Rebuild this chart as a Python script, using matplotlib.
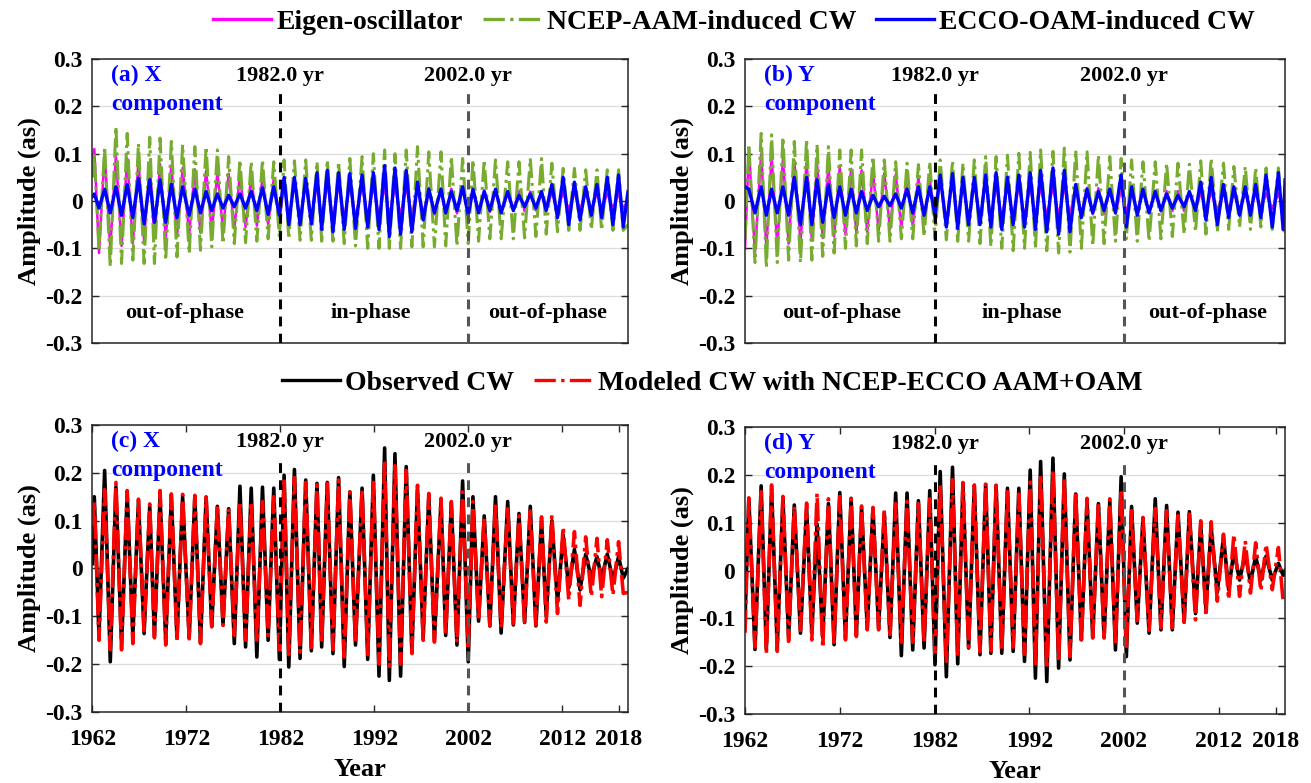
import matplotlib
matplotlib.use("Agg")
import matplotlib.pyplot as plt
from matplotlib.lines import Line2D

plt.rcParams['font.family'] = ['Liberation Serif', 'DejaVu Serif']
plt.rcParams['font.weight'] = 'bold'
plt.rcParams['axes.labelweight'] = 'bold'
plt.rcParams['lines.solid_joinstyle'] = 'round'
plt.rcParams['lines.dash_joinstyle'] = 'round'

# --- extremum times (years) ---
x_peak_t = [1962.2, 1963.3, 1964.5, 1965.7, 1966.9, 1968.1, 1969.2, 1970.4, 1971.6, 1972.9,
            1974.1, 1975.3, 1976.5, 1977.7, 1978.9, 1980.1, 1981.3, 1982.4, 1983.5, 1984.7,
            1985.9, 1987.0, 1988.2, 1989.4, 1990.7, 1991.9, 1993.1, 1994.2, 1995.4, 1996.6,
            1997.8, 1999.1, 2000.2, 2001.4, 2002.5, 2003.7, 2004.9, 2006.2, 2007.4, 2008.6,
            2009.8, 2010.9, 2012.1, 2013.3, 2014.5, 2015.7, 2016.8, 2018.0]
x_trough_t = [1962.7, 1963.9, 1965.1, 1966.3, 1967.5, 1968.6, 1969.8, 1971.0, 1972.3, 1973.5,
              1974.7, 1975.9, 1977.1, 1978.3, 1979.5, 1980.7, 1981.9, 1982.9, 1984.1, 1985.3,
              1986.4, 1987.6, 1988.8, 1990.0, 1991.3, 1992.5, 1993.6, 1994.8, 1996.0, 1997.2,
              1998.4, 1999.6, 2000.8, 2002.0, 2003.1, 2004.3, 2005.5, 2006.8, 2008.0, 2009.2,
              2010.3, 2011.5, 2012.7, 2013.9, 2015.1, 2016.2, 2017.4, 2018.5]
y_peak_t = [1962.4, 1963.7, 1964.8, 1966.0, 1967.2, 1968.5, 1969.6, 1970.8, 1972.0, 1973.2,
            1974.3, 1975.5, 1976.7, 1977.9, 1979.1, 1980.3, 1981.5, 1982.6, 1983.9, 1985.0,
            1986.2, 1987.4, 1988.5, 1989.7, 1990.9, 1992.1, 1993.2, 1994.5, 1995.7, 1996.9,
            1998.1, 1999.3, 2000.5, 2001.7, 2002.8, 2004.0, 2005.3, 2006.5, 2007.7, 2008.9,
            2010.1, 2011.2, 2012.5, 2013.6, 2014.8, 2015.9, 2017.0, 2018.3]
y_trough_t = [1963.05, 1964.25, 1965.4, 1966.6, 1967.85, 1969.05, 1970.2, 1971.4, 1972.6, 1973.75,
              1974.9, 1976.1, 1977.3, 1978.5, 1979.7, 1980.9, 1982.05, 1983.25, 1984.45, 1985.6,
              1986.8, 1987.95, 1989.1, 1990.3, 1991.5, 1992.65, 1993.85, 1995.1, 1996.3, 1997.5,
              1998.7, 1999.9, 2001.1, 2002.25, 2003.4, 2004.65, 2005.9, 2007.1, 2008.35, 2009.55,
              2010.65, 2011.85, 2013.05, 2014.2, 2015.35, 2016.45, 2017.65, 2018.8]
t_start, t_end = 1962.0, 2019.0

# --- (a) X component of induced CW ---
eig_x_amp = [0.11, 0.10, 0.095, 0.09, 0.085, 0.08, 0.078, 0.075, 0.07, 0.067,
             0.064, 0.06, 0.058, 0.055, 0.052, 0.05, 0.048, 0.046, 0.044, 0.042,
             0.04, 0.039, 0.037, 0.036, 0.034, 0.033, 0.032, 0.031, 0.03, 0.029,
             0.028, 0.027, 0.026, 0.025, 0.024, 0.023, 0.022, 0.021, 0.021, 0.02,
             0.019, 0.019, 0.018, 0.018, 0.017, 0.017, 0.016, 0.016]
ncep_x_max = [0.10, 0.115, 0.157, 0.143, 0.122, 0.135, 0.133, 0.126, 0.119, 0.115,
              0.115, 0.108, 0.094, 0.087, 0.083, 0.087, 0.083, 0.087, 0.085, 0.087,
              0.083, 0.087, 0.083, 0.09, 0.094, 0.10, 0.108, 0.10, 0.108, 0.115,
              0.104, 0.104, 0.094, 0.09, 0.087, 0.087, 0.087, 0.083, 0.083, 0.09,
              0.09, 0.08, 0.069, 0.069, 0.066, 0.066, 0.066, 0.066]
ncep_x_min = [-0.104, -0.139, -0.132, -0.125, -0.132, -0.132, -0.125, -0.118, -0.111, -0.104,
              -0.097, -0.09, -0.09, -0.088, -0.085, -0.08, -0.076, -0.08, -0.083, -0.083,
              -0.085, -0.085, -0.09, -0.095, -0.10, -0.10, -0.10, -0.10, -0.097, -0.097,
              -0.097, -0.095, -0.095, -0.09, -0.085, -0.08, -0.08, -0.08, -0.078, -0.075,
              -0.07, -0.065, -0.062, -0.062, -0.06, -0.062, -0.062, -0.062]
ecco_x_amp = [0.015, 0.025, 0.03, 0.035, 0.048, 0.045, 0.045, 0.035, 0.03, 0.025,
              0.02, 0.015, 0.012, 0.015, 0.02, 0.028, 0.03, 0.05, 0.05, 0.048,
              0.06, 0.065, 0.06, 0.058, 0.055, 0.06, 0.075, 0.07, 0.065, 0.04,
              0.025, 0.025, 0.02, 0.03, 0.025, 0.02, 0.025, 0.02, 0.012, 0.015,
              0.02, 0.035, 0.05, 0.04, 0.03, 0.035, 0.05, 0.055]
a_start = {'eig': 0.08, 'ncep': 0.05, 'ecco': 0.01}
a_end = {'eig': 0.0, 'ncep': -0.05, 'ecco': 0.02}

# --- (b) Y component of induced CW ---
eig_y_amp = [0.11, 0.10, 0.095, 0.09, 0.086, 0.082, 0.078, 0.075, 0.071, 0.068,
             0.065, 0.062, 0.059, 0.056, 0.053, 0.05, 0.048, 0.046, 0.044, 0.042,
             0.04, 0.039, 0.037, 0.036, 0.034, 0.033, 0.032, 0.031, 0.03, 0.029,
             0.028, 0.027, 0.026, 0.025, 0.024, 0.023, 0.022, 0.021, 0.021, 0.02,
             0.019, 0.019, 0.018, 0.018, 0.017, 0.017, 0.016, 0.016]
ncep_y_max = [0.12, 0.143, 0.14, 0.135, 0.126, 0.131, 0.119, 0.115, 0.108, 0.108,
              0.108, 0.094, 0.087, 0.083, 0.08, 0.077, 0.083, 0.087, 0.085, 0.08,
              0.087, 0.094, 0.094, 0.097, 0.101, 0.103, 0.108, 0.105, 0.112, 0.108,
              0.104, 0.097, 0.094, 0.09, 0.087, 0.083, 0.083, 0.08, 0.08, 0.078,
              0.085, 0.09, 0.08, 0.073, 0.073, 0.07, 0.07, 0.07]
ncep_y_min = [-0.13, -0.141, -0.13, -0.125, -0.13, -0.125, -0.117, -0.11, -0.10, -0.095,
              -0.09, -0.085, -0.085, -0.08, -0.08, -0.075, -0.08, -0.082, -0.085, -0.085,
              -0.09, -0.096, -0.10, -0.105, -0.10, -0.10, -0.105, -0.11, -0.108, -0.10,
              -0.095, -0.09, -0.085, -0.08, -0.085, -0.085, -0.08, -0.075, -0.07, -0.065,
              -0.07, -0.065, -0.06, -0.055, -0.06, -0.055, -0.06, -0.06]
ecco_y_amp = [0.025, 0.03, 0.025, 0.03, 0.05, 0.05, 0.045, 0.035, 0.03, 0.025,
              0.02, 0.012, 0.01, 0.015, 0.025, 0.03, 0.03, 0.055, 0.058, 0.05,
              0.05, 0.055, 0.06, 0.05, 0.055, 0.06, 0.065, 0.07, 0.065, 0.035,
              0.025, 0.02, 0.025, 0.055, 0.03, 0.025, 0.02, 0.015, 0.012, 0.02,
              0.04, 0.05, 0.035, 0.03, 0.03, 0.035, 0.055, 0.06]
b_start = {'eig': -0.10, 'ncep': -0.08, 'ecco': 0.03}
b_end = {'eig': 0.0, 'ncep': -0.065, 'ecco': 0.045}

# --- (c) X component: observed vs modeled ---
obs_x_max = [0.15, 0.205, 0.17, 0.155, 0.14, 0.13, 0.15, 0.15, 0.15, 0.15,
             0.148, 0.13, 0.125, 0.172, 0.168, 0.17, 0.168, 0.195, 0.207, 0.185,
             0.178, 0.18, 0.19, 0.16, 0.168, 0.195, 0.252, 0.24, 0.213, 0.165,
             0.15, 0.14, 0.135, 0.183, 0.15, 0.11, 0.15, 0.14, 0.115, 0.13,
             0.10, 0.10, 0.07, 0.04, 0.03, 0.025, 0.03, 0.025]
obs_x_min = [-0.14, -0.195, -0.16, -0.14, -0.136, -0.14, -0.15, -0.145, -0.145, -0.155,
             -0.12, -0.117, -0.157, -0.164, -0.185, -0.15, -0.19, -0.206, -0.188, -0.172,
             -0.164, -0.178, -0.205, -0.16, -0.19, -0.225, -0.234, -0.225, -0.175, -0.145,
             -0.148, -0.14, -0.16, -0.195, -0.11, -0.12, -0.135, -0.118, -0.113, -0.12,
             -0.10, -0.07, -0.04, -0.045, -0.02, -0.02, -0.025, -0.02]
mod_x_max = [0.14, 0.165, 0.18, 0.163, 0.145, 0.135, 0.163, 0.156, 0.155, 0.153,
             0.15, 0.133, 0.126, 0.14, 0.14, 0.14, 0.15, 0.19, 0.19, 0.18,
             0.175, 0.178, 0.185, 0.16, 0.165, 0.18, 0.22, 0.215, 0.205, 0.174,
             0.157, 0.147, 0.14, 0.16, 0.14, 0.105, 0.135, 0.125, 0.11, 0.12,
             0.108, 0.112, 0.087, 0.077, 0.066, 0.063, 0.06, 0.056]
mod_x_min = [-0.15, -0.17, -0.17, -0.157, -0.13, -0.145, -0.16, -0.15, -0.147, -0.157,
             -0.122, -0.119, -0.14, -0.15, -0.155, -0.14, -0.17, -0.18, -0.175, -0.165,
             -0.155, -0.17, -0.185, -0.155, -0.18, -0.20, -0.205, -0.20, -0.178, -0.15,
             -0.154, -0.14, -0.155, -0.17, -0.11, -0.12, -0.125, -0.115, -0.112, -0.118,
             -0.112, -0.094, -0.066, -0.077, -0.059, -0.059, -0.056, -0.052]
c_start = {'obs': 0.01, 'mod': 0.09}
c_end = {'obs': 0.0, 'mod': -0.05}

# --- (d) Y component: observed vs modeled ---
obs_y_max = [0.15, 0.177, 0.17, 0.15, 0.137, 0.13, 0.097, 0.14, 0.163, 0.151,
             0.133, 0.13, 0.12, 0.162, 0.162, 0.146, 0.167, 0.207, 0.216, 0.18,
             0.176, 0.18, 0.178, 0.172, 0.172, 0.21, 0.228, 0.235, 0.202, 0.16,
             0.145, 0.14, 0.145, 0.196, 0.134, 0.108, 0.15, 0.136, 0.122, 0.123,
             0.095, 0.09, 0.07, 0.04, 0.035, 0.03, 0.03, 0.015]
obs_y_min = [-0.165, -0.165, -0.16, -0.14, -0.131, -0.13, -0.14, -0.155, -0.14, -0.135,
             -0.12, -0.12, -0.14, -0.178, -0.166, -0.162, -0.197, -0.222, -0.195, -0.162,
             -0.176, -0.173, -0.173, -0.169, -0.19, -0.225, -0.232, -0.204, -0.187, -0.145,
             -0.14, -0.14, -0.166, -0.18, -0.11, -0.131, -0.124, -0.124, -0.108, -0.09,
             -0.08, -0.045, -0.04, -0.02, -0.025, -0.02, -0.02, -0.01]
mod_y_max = [0.152, 0.165, 0.179, 0.155, 0.135, 0.141, 0.162, 0.15, 0.155, 0.15,
             0.135, 0.132, 0.126, 0.14, 0.145, 0.14, 0.15, 0.18, 0.19, 0.184,
             0.179, 0.184, 0.178, 0.165, 0.16, 0.185, 0.20, 0.21, 0.195, 0.165,
             0.151, 0.142, 0.15, 0.17, 0.125, 0.111, 0.13, 0.125, 0.115, 0.118,
             0.104, 0.102, 0.076, 0.076, 0.062, 0.058, 0.055, 0.048]
mod_y_min = [-0.16, -0.174, -0.169, -0.148, -0.125, -0.145, -0.162, -0.15, -0.145, -0.138,
             -0.124, -0.124, -0.141, -0.15, -0.15, -0.15, -0.175, -0.19, -0.18, -0.16,
             -0.17, -0.168, -0.168, -0.16, -0.175, -0.20, -0.205, -0.19, -0.18, -0.152,
             -0.141, -0.141, -0.155, -0.165, -0.105, -0.125, -0.12, -0.12, -0.108, -0.103,
             -0.096, -0.064, -0.061, -0.054, -0.047, -0.043, -0.04, -0.065]
d_start = {'obs': -0.10, 'mod': -0.13}
d_end = {'obs': 0.0, 'mod': -0.07}

year_ticks = [1962, 1972, 1982, 1992, 2002, 2012, 2018]
amp_ticks = [-0.3, -0.2, -0.1, 0, 0.1, 0.2, 0.3]
amp_ticklabels = ['-0.3', '-0.2', '-0.1', '0', '0.1', '0.2', '0.3']

MAGENTA = '#FF00FF'
GREEN = '#77AC30'
BLUE = '#0000FF'


def zigzag(v0, peak_t, peak_v, trough_t, trough_v, v1):
    t, v = [t_start], [v0]
    for tp, vp, tt, vt in zip(peak_t, peak_v, trough_t, trough_v):
        t += [tp, tt]
        v += [vp, vt]
    t.append(t_end)
    v.append(v1)
    return t, v


def style_axes(ax, bottom_row):
    ax.set_xlim(t_start, t_end)
    ax.set_ylim(-0.3, 0.3)
    ax.set_yticks(amp_ticks)
    ax.set_yticklabels(amp_ticklabels)
    ax.yaxis.grid(True, color='#dcdcdc', lw=0.9)
    ax.set_axisbelow(True)
    ax.tick_params(axis='both', direction='in', length=5, width=1, labelsize=17,
                   right=True, top=bottom_row, colors='#262626')
    ax.tick_params(axis='both', labelcolor='black')
    ax.tick_params(axis='y', pad=7)
    ax.tick_params(axis='x', pad=12)
    if bottom_row:
        ax.set_xticks(year_ticks)
        ax.set_xlabel('Year', fontsize=19, labelpad=6)
    else:
        ax.set_xticks([])
    ax.set_ylabel('Amplitude (as)', fontsize=19, labelpad=3)
    for s in ax.spines.values():
        s.set_color('#262626')
        s.set_linewidth(1.1)
    for lbl in ax.get_xticklabels() + ax.get_yticklabels():
        lbl.set_fontweight('bold')


def markers(ax, tag, comp, phases):
    ax.plot([1982, 1982], [-0.3, 0.235], color='black', lw=2.2, ls=(0, (3.2, 2.4)), zorder=5)
    ax.plot([2002, 2002], [-0.3, 0.235], color='#555555', lw=2.2, ls=(0, (3.2, 2.4)), zorder=5)
    ax.text(1982, 0.265, '1982.0 yr', ha='center', va='center', fontsize=16, zorder=6)
    ax.text(2002, 0.265, '2002.0 yr', ha='center', va='center', fontsize=16, zorder=6)
    ax.text(1964.0, 0.265, f'({tag}) {comp}', color=BLUE, ha='left', va='center', fontsize=17, zorder=6)
    ax.text(1964.0, 0.204, 'component', color=BLUE, ha='left', va='center', fontsize=17, zorder=6)
    if phases:
        for xpos, txt in phases:
            ax.text(xpos, -0.237, txt, ha='center', va='center', fontsize=16, zorder=6)


fig = plt.figure(figsize=(13.11, 7.83), dpi=100)
ax_a = fig.add_axes([0.0705, 0.562, 0.4085, 0.3625])
ax_b = fig.add_axes([0.5683, 0.562, 0.4119, 0.3625])
ax_c = fig.add_axes([0.0705, 0.0907, 0.4085, 0.3665])
ax_d = fig.add_axes([0.5683, 0.0881, 0.4119, 0.3665])

# (a)
neg = lambda seq: [-s for s in seq]
t, v = zigzag(a_start['eig'], x_peak_t, eig_x_amp, x_trough_t, neg(eig_x_amp), a_end['eig'])
ax_a.plot(t, v, color=MAGENTA, lw=1.8)
t, v = zigzag(a_start['ncep'], x_peak_t, ncep_x_max, x_trough_t, ncep_x_min, a_end['ncep'])
ax_a.plot(t, v, color=GREEN, lw=2.2, ls='-.')
t, v = zigzag(a_start['ecco'], x_peak_t, ecco_x_amp, x_trough_t, neg(ecco_x_amp), a_end['ecco'])
ax_a.plot(t, v, color=BLUE, lw=2.4)

# (b)
t, v = zigzag(b_start['eig'], y_peak_t, eig_y_amp, y_trough_t, neg(eig_y_amp), b_end['eig'])
ax_b.plot(t, v, color=MAGENTA, lw=1.8)
t, v = zigzag(b_start['ncep'], y_peak_t, ncep_y_max, y_trough_t, ncep_y_min, b_end['ncep'])
ax_b.plot(t, v, color=GREEN, lw=2.2, ls='-.')
t, v = zigzag(b_start['ecco'], y_peak_t, ecco_y_amp, y_trough_t, neg(ecco_y_amp), b_end['ecco'])
ax_b.plot(t, v, color=BLUE, lw=2.4)

# (c)
t, v = zigzag(c_start['obs'], x_peak_t, obs_x_max, x_trough_t, obs_x_min, c_end['obs'])
ax_c.plot(t, v, color='black', lw=2.6)
t, v = zigzag(c_start['mod'], x_peak_t, mod_x_max, x_trough_t, mod_x_min, c_end['mod'])
ax_c.plot(t, v, color='red', lw=2.6, ls='-.')

# (d)
t, v = zigzag(d_start['obs'], y_peak_t, obs_y_max, y_trough_t, obs_y_min, d_end['obs'])
ax_d.plot(t, v, color='black', lw=2.6)
t, v = zigzag(d_start['mod'], y_peak_t, mod_y_max, y_trough_t, mod_y_min, d_end['mod'])
ax_d.plot(t, v, color='red', lw=2.6, ls='-.')

style_axes(ax_a, False)
style_axes(ax_b, False)
style_axes(ax_c, True)
style_axes(ax_d, True)

markers(ax_a, 'a', 'X', [(1971.8, 'out-of-phase'), (1991.6, 'in-phase'), (2010.5, 'out-of-phase')])
markers(ax_b, 'b', 'Y', [(1972.2, 'out-of-phase'), (1991.2, 'in-phase'), (2010.8, 'out-of-phase')])
markers(ax_c, 'c', 'X', None)
markers(ax_d, 'd', 'Y', None)

top_handles = [Line2D([], [], color=MAGENTA, lw=2.4),
               Line2D([], [], color=GREEN, lw=2.4, ls='-.'),
               Line2D([], [], color=BLUE, lw=2.4)]
fig.legend(top_handles, ['Eigen-oscillator', 'NCEP-AAM-induced CW', 'ECCO-OAM-induced CW'],
           loc='center', bbox_to_anchor=(0.56, 0.972), ncol=3, frameon=False,
           fontsize=20, handlelength=2.1, handletextpad=0.2, columnspacing=0.7)

mid_handles = [Line2D([], [], color='black', lw=2.4),
               Line2D([], [], color='red', lw=2.4, ls='-.')]
fig.legend(mid_handles, ['Observed CW', 'Modeled CW with NCEP-ECCO AAM+OAM'],
           loc='center', bbox_to_anchor=(0.543, 0.511), ncol=2, frameon=False,
           fontsize=20, handlelength=2.1, handletextpad=0.2, columnspacing=0.7)

fig.savefig('out.png', dpi=100)
